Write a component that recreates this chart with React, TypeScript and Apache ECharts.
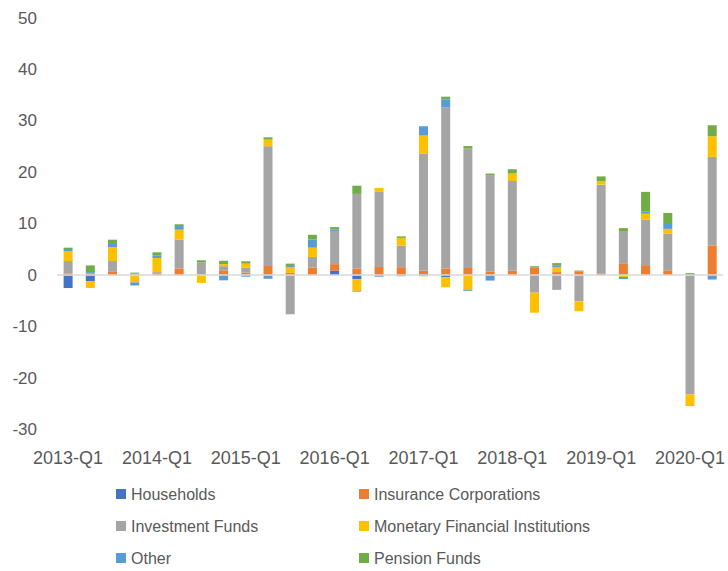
import React, { useEffect, useRef } from "react";
import * as echarts from "echarts";

const categories = [
  "2013-Q1", "2013-Q2", "2013-Q3", "2013-Q4",
  "2014-Q1", "2014-Q2", "2014-Q3", "2014-Q4",
  "2015-Q1", "2015-Q2", "2015-Q3", "2015-Q4",
  "2016-Q1", "2016-Q2", "2016-Q3", "2016-Q4",
  "2017-Q1", "2017-Q2", "2017-Q3", "2017-Q4",
  "2018-Q1", "2018-Q2", "2018-Q3", "2018-Q4",
  "2019-Q1", "2019-Q2", "2019-Q3", "2019-Q4",
  "2020-Q1", "2020-Q2",
];

const households = [
  -2.5, -1.2, 0, 0, 0, 0, 0, 0, 0, 0,
  0, 0, 0.85, -0.8, 0, 0, 0.2, -0.4, 0, 0,
  0, 0, 0, 0, 0, 0, 0, 0, 0, 0,
];
const insurance = [
  0.35, 0.3, 0.65, 0, 0.35, 1.3, 0, 0.95, 0.5, 1.8,
  0.45, 1.5, 1.3, 1.3, 1.6, 1.55, 0.65, 1.3, 1.4, 0.65,
  0.85, 1.5, 0.6, 0.75, 0.3, 2.2, 1.95, 0.95, 0, 5.8,
];
const investmentFunds = [
  2.4, 0, 2.1, 0.3, 0.25, 5.6, 2.5, 0.8, 1.0, 23.25,
  -7.6, 2.05, 6.45, 14.5, 14.7, 4.2, 22.75, 31.3, 23.2, 18.7,
  17.45, -3.4, -2.85, -5.1, 17.3, 6.25, 8.85, 7.1, -23.2, 17.2,
];
const monetary = [
  1.95, -1.3, 2.7, -1.4, 2.75, 1.95, -1.5, 0.4, 0.75, 1.3,
  1.1, 1.8, 0, -2.25, 0.65, 1.5, 3.55, -1.95, -2.8, 0,
  1.45, -3.9, 0.95, -1.9, 0.65, -0.35, 1.15, 0.95, -2.25, 4.0,
];
const other = [
  0.2, 0.3, 0.8, -0.6, 0.45, 0.7, 0, -1.0, -0.3, -0.7,
  0.25, 1.6, 0.3, -0.15, -0.3, -0.2, 1.8, 1.6, -0.25, -1.05,
  0, 0, 0.3, 0, 0, -0.4, 0.45, 0.95, 0, -0.85,
];
const pension = [
  0.45, 1.3, 0.65, 0.2, 0.65, 0.35, 0.4, 0.65, 0.45, 0.45,
  0.45, 0.9, 0.45, 1.6, 0, 0.3, -0.2, 0.5, 0.5, 0.4,
  0.85, 0.25, 0.5, 0.15, 0.95, 0.7, 3.8, 2.15, 0.4, 2.15,
];

const seriesDefs = [
  { name: "Households", data: households, color: "#4472C4" },
  { name: "Insurance Corporations", data: insurance, color: "#ED7D31" },
  { name: "Investment Funds", data: investmentFunds, color: "#A5A5A5" },
  { name: "Monetary Financial Institutions", data: monetary, color: "#FFC000" },
  { name: "Other", data: other, color: "#5B9BD5" },
  { name: "Pension Funds", data: pension, color: "#70AD47" },
];

const FONT = "'Liberation Sans', Arial, sans-serif";
const TEXT = "#595959";

export default function App() {
  const ref = useRef<HTMLDivElement>(null);
  useEffect(() => {
    if (!ref.current) return;
    const chart = echarts.init(ref.current, null, { renderer: "svg" });
    const legendCommon = {
      orient: "vertical" as const,
      icon: "rect",
      itemWidth: 10,
      itemHeight: 10,
      itemGap: 16,
      height: 84,
      textStyle: { fontSize: 16, color: TEXT, fontFamily: FONT, lineHeight: 16 },
      selectedMode: false,
    };
    chart.setOption({
      animation: false,
      textStyle: { fontFamily: FONT },
      grid: { left: 57, right: 3, top: 18, bottom: 141.5, containLabel: false },
      legend: [
        { ...legendCommon, left: 111, top: 481, data: ["Households", "Investment Funds", "Other"] },
        {
          ...legendCommon,
          left: 354,
          top: 481,
          data: ["Insurance Corporations", "Monetary Financial Institutions", "Pension Funds"],
        },
      ],
      xAxis: {
        type: "category",
        data: categories,
        axisLine: { show: false, onZero: false },
        axisTick: { show: false },
        axisLabel: { interval: 3, fontSize: 18, color: TEXT, margin: 19, fontFamily: FONT },
        splitLine: { show: false },
      },
      yAxis: {
        type: "value",
        min: -30,
        max: 50,
        interval: 10,
        axisLine: { show: false },
        axisTick: { show: false },
        splitLine: { show: false },
        axisLabel: { fontSize: 17, color: TEXT, margin: 20, fontFamily: FONT },
      },
      series: seriesDefs.map((s, i) => ({
        name: s.name,
        type: "bar",
        stack: "total",
        barWidth: 9,
        data: s.data,
        itemStyle: { color: s.color },
        ...(i === 0
          ? {
              markLine: {
                silent: true,
                symbol: "none",
                label: { show: false },
                lineStyle: { color: "#D9D9D9", width: 1.5, type: "solid" },
                data: [{ yAxis: 0 }],
              },
            }
          : {}),
      })),
    });
    return () => chart.dispose();
  }, []);
  return (
    <div
      ref={ref}
      style={{ position: "absolute", left: 0, top: 0, width: 728, height: 571 }}
    />
  );
}
